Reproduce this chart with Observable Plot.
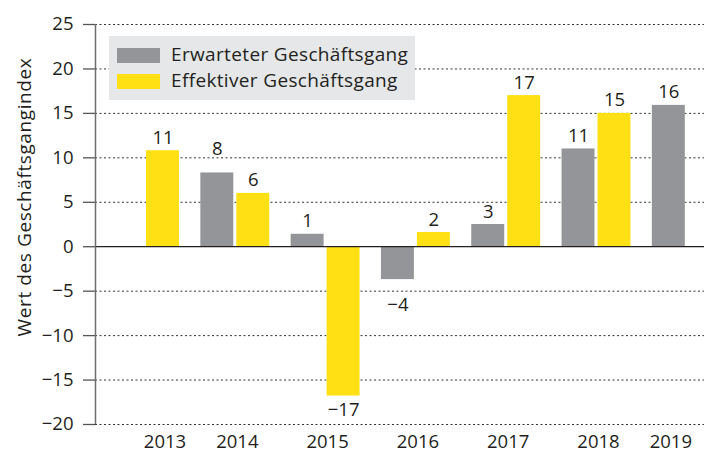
<!DOCTYPE html>
<html><head><meta charset="utf-8">
<script src="https://cdn.jsdelivr.net/npm/d3@7"></script>
<script src="https://cdn.jsdelivr.net/npm/@observablehq/plot@0.6"></script>
<style>
body{margin:0;background:#fff;}
#wrap{position:relative;width:704px;height:454px;font-family:"Open Sans",Lato,sans-serif;color:#231f20;}
#wrap svg{position:absolute;left:0;top:0;}
#legend{position:absolute;left:109px;top:36px;width:306px;height:64px;background:#e6e7e8;}
.sw{position:absolute;left:8px;width:43px;height:15px;}
.lt{position:absolute;left:62px;font-size:19px;line-height:19px;letter-spacing:0.35px;white-space:nowrap;}
#ylabel{position:absolute;left:24px;top:197px;transform:translate(-50%,-50%) rotate(-90deg);font-size:19px;letter-spacing:0.6px;white-space:nowrap;}
</style></head><body><div id="wrap"></div>
<script>
const years = [2013, 2014, 2015, 2016, 2017, 2018, 2019];
const erwartet = [null, 8.3, 1.4, -3.7, 2.5, 11.0, 15.9];
const effektiv = [10.8, 6.0, -16.8, 1.6, 17.0, 15.0, null];
const seriesNames = ["Erwarteter Geschäftsgang", "Effektiver Geschäftsgang"];
const colors = ["#939598", "#ffe014"];
const yTicks = [-20, -15, -10, -5, 0, 5, 10, 15, 20, 25];
const yLabel = "Wert des Geschäftsgangindex";

const W = 704, H = 454, ml = 95, mr = 0, mt = 24, mb = 30;
const pxPerYear = 90.3, x2013 = 144.5;
const xDomain = [2013 - (x2013 - ml) / pxPerYear, 2013 + (W - mr - x2013) / pxPerYear];
const ppu = (H - mt - mb) / 45; // pixels per index unit
const textH = 14 / ppu; // approx digit height in data units

const gap = 0.0166, bw = 0.365;
const rows = [];
years.forEach((yr, i) => {
  [erwartet[i], effektiv[i]].forEach((v, s) => {
    if (v == null) return;
    const x1 = s === 0 ? yr - gap - bw : yr + gap;
    // label anchor: 7px beyond bar end; shifted past a grid line if it would overlap it
    let ly;
    if (v >= 0) {
      ly = v + 7 / ppu;
      const g = yTicks.find(t => t !== 0 && t > ly && t < ly + textH);
      if (g !== undefined) ly = g + 3 / ppu;
    } else {
      ly = v - 7 / ppu;
      const g = yTicks.find(t => t !== 0 && t < ly && t > ly - textH);
      if (g !== undefined) ly = g - 6.6 / ppu;
    }
    rows.push({year: yr, series: seriesNames[s], value: v, x1, x2: x1 + bw, xm: x1 + bw / 2, ly});
  });
});
const yearLabels = years.map((yr, i) => {
  const both = erwartet[i] != null && effektiv[i] != null;
  const xm = both ? yr : (erwartet[i] != null ? yr - gap - bw / 2 : yr + gap + bw / 2);
  return {year: yr, xm};
});
const fmt = v => String(Math.round(v)).replace("-", "\u2212");

const chart = Plot.plot({
  width: W, height: H,
  marginLeft: ml, marginRight: mr, marginTop: mt, marginBottom: mb,
  style: {fontFamily: '"Open Sans", Lato, sans-serif', fontSize: "18.5px", color: "#231f20", background: "transparent"},
  x: {type: "linear", domain: xDomain, axis: null},
  y: {domain: [-20, 25], axis: null},
  color: {domain: seriesNames, range: colors},
  marks: [
    Plot.gridY(yTicks.filter(d => d !== 0), {stroke: "#333", strokeOpacity: 1, strokeDasharray: "2,2.5", strokeWidth: 1}),
    Plot.rect(rows, {x1: "x1", x2: "x2", y1: 0, y2: "value", fill: "series"}),
    Plot.ruleY([0], {stroke: "#231f20", strokeWidth: 1.2}),
    Plot.axisY({ticks: yTicks, tickSize: 12, tickPadding: 10, stroke: "#555", strokeWidth: 1.3, fontSize: 18.5, fill: "#231f20", label: null, tickFormat: fmt}),
    Plot.ruleX([xDomain[0]], {y1: -20, y2: 25, stroke: "#6d6e71", strokeWidth: 1.5}),
    Plot.text(rows.filter(d => d.value >= 0), {x: "xm", y: "ly", text: d => fmt(d.value), lineAnchor: "bottom", fontSize: 18.5, fill: "#231f20"}),
    Plot.text(rows.filter(d => d.value < 0), {x: "xm", y: "ly", text: d => fmt(d.value), lineAnchor: "top", fontSize: 18.5, fill: "#231f20"}),
    Plot.text(yearLabels, {x: "xm", y: -20, text: d => String(d.year), lineAnchor: "top", dy: 10, dx: 2, fontSize: 18.5, fill: "#231f20"})
  ]
});
const wrap = document.getElementById("wrap");
wrap.appendChild(chart);

const legend = document.createElement("div");
legend.id = "legend";
seriesNames.forEach((name, i) => {
  const sw = document.createElement("div");
  sw.className = "sw"; sw.style.top = (12 + i * 26) + "px"; sw.style.background = colors[i];
  const t = document.createElement("div");
  t.className = "lt"; t.style.top = (9 + i * 26) + "px"; t.textContent = name;
  legend.appendChild(sw); legend.appendChild(t);
});
wrap.appendChild(legend);
const yl = document.createElement("div");
yl.id = "ylabel"; yl.textContent = yLabel;
wrap.appendChild(yl);
</script></body></html>
